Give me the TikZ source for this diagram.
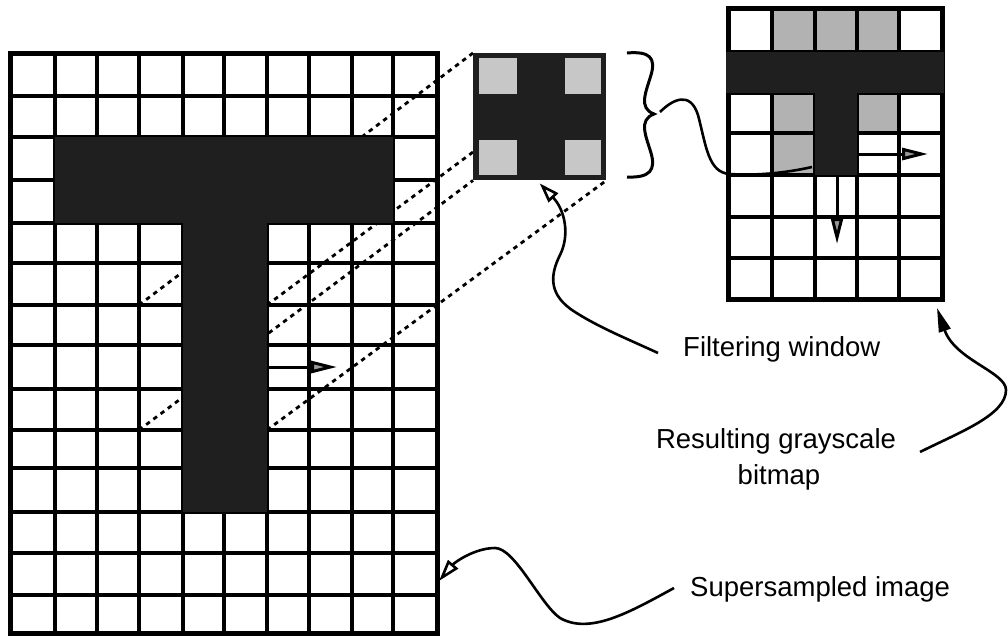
\documentclass[tikz,border=0pt]{standalone}
\usepackage{fontspec}
\setmainfont{Liberation Sans}
\usetikzlibrary{arrows.meta}
\begin{document}
\begin{tikzpicture}[x=1pt,y=-1pt,
  gridline/.style={line width=3.4pt},
  gridframe/.style={line width=5pt},
  darkfill/.style={fill=black!88},
  lightfill/.style={fill=black!30},
  winlight/.style={fill=black!22},
  dashedlink/.style={line width=2.8pt, dash pattern=on 4.5pt off 4.5pt},
  curveline/.style={line width=2.6pt},
  moveopen/.style={line width=3pt,-{Triangle[length=26pt,width=12pt,fill=black!40]}},
  lbltext/.style={font=\fontsize{27.5}{33}\selectfont, inner sep=0pt}]
\useasboundingbox (0,0) rectangle (1008,638);
\fill[white] (0,0) rectangle (1008,638);

% ---------- result bitmap: light cells (under grid lines)
\fill[lightfill] (772,8) rectangle (899,52);
\fill[lightfill] (772,93) rectangle (815,175);
\fill[lightfill] (857,93) rectangle (899,133);

% ---------- supersampled grid
\foreach \x in {55,97,139,183,224,267,309,352,393}
  \draw[gridline] (\x,53) -- (\x,633);
\foreach \y in {96,137,180,223,263,305,345,389,430,468,512,553,595}
  \draw[gridline] (10,\y) -- (437,\y);
\draw[gridframe] (10,53) rectangle (437,633);

% ---------- result grid
\foreach \x in {772,815,857,899}
  \draw[gridline] (\x,8) -- (\x,299);
\foreach \y in {52,93,133,175,217,258}
  \draw[gridline] (728,\y) -- (942,\y);
\draw[gridframe] (728,8) rectangle (942,299);

% ---------- filtering window node and window corners in the big grid
\coordinate (wTL) at (139,305);
\coordinate (wTR) at (267,305);
\coordinate (wBL) at (139,430);
\coordinate (wBR) at (267,430);
\node[draw=none, inner sep=0pt, minimum width=133pt, minimum height=127pt,
      anchor=north west] (fw) at (473,53) {};

\draw[dashedlink] (wTL) -- (fw.north west);
\draw[dashedlink] (wTR) -- (fw.north east);
\draw[dashedlink] (wBL) -- (fw.south west);
\draw[dashedlink] (wBR) -- (fw.south east);

% ---------- the T (supersampled)
\fill[darkfill] (55,137) rectangle (393,223);
\fill[darkfill] (183,222) rectangle (267,512);

% ---------- result bitmap dark cells
\fill[darkfill] (726,52) rectangle (944,93);
\fill[darkfill] (815,92) rectangle (857,175);

% ---------- filtering window drawing
\fill[darkfill] (fw.north west) rectangle (fw.south east);
\fill[winlight] (479,58) rectangle (517,94);
\fill[winlight] (565,58) rectangle (601,94);
\fill[winlight] (479,140) rectangle (517,175);
\fill[winlight] (565,140) rectangle (601,175);

% ---------- movement arrows
\coordinate (ssA) at (267,367);
\coordinate (ssB) at (337,367);
\draw[moveopen] (ssA) -- (ssB);
\coordinate (rsA) at (857,154);
\coordinate (rsB) at (928,154);
\draw[moveopen] (rsA) -- (rsB);
\coordinate (rdA) at (837,175);
\coordinate (rdB) at (837,244);
\draw[moveopen] (rdA) -- (rdB);

% ---------- brace and its curve into the result
\draw[line width=3pt] (627,53) .. controls (650,51) and (656,58) .. (651,75)
  .. controls (646,92) and (638,108) .. (654,114)
  .. controls (638,120) and (646,136) .. (651,153)
  .. controls (656,170) and (650,178) .. (627,177);
\coordinate (brTip) at (660,112);
\coordinate (brEnd) at (812,167);
\draw[curveline] (brTip) .. controls (672,100) and (690,90) .. (698,115)
  .. controls (706,145) and (708,173) .. (730,174)
  .. controls (760,176) and (790,172) .. (brEnd);

% ---------- labels
\node[lbltext, anchor=base west] (lblF) at (683,356) {Filtering window};
\node[lbltext, anchor=base] (lblR) at (776,448) {Resulting grayscale};
\node[lbltext, anchor=base] (lblR2) at (779,484) {bitmap};
\node[lbltext, anchor=base west] (lblS) at (690,596) {Supersampled image};

% ---------- label connectors
\coordinate (fEnd) at (658,353);
\draw[curveline, -{Triangle[open,length=20pt,width=13pt]}] (fEnd)
  .. controls (630,340) and (600,328) .. (575,312)
  .. controls (548,295) and (550,275) .. (560,255)
  .. controls (570,235) and (565,210) .. ([yshift=-3pt]fw.south);

\coordinate (rEnd) at (920,452);
\coordinate (rTip) at (937,308);
\draw[curveline, -{Triangle[length=24pt,width=12pt]}] (rEnd)
  .. controls (960,432) and (1006,415) .. (1006,390)
  .. controls (1006,372) and (955,360) .. (rTip);

\coordinate (sEnd) at (674,588);
\coordinate (sTip) at (439,581);
\draw[curveline, -{Triangle[open,length=22pt,width=13pt]}] (sEnd)
  .. controls (630,612) and (590,635) .. (560,618)
  .. controls (540,604) and (515,548) .. (495,548)
  .. controls (475,548) and (455,562) .. (sTip);
\end{tikzpicture}
\end{document}
